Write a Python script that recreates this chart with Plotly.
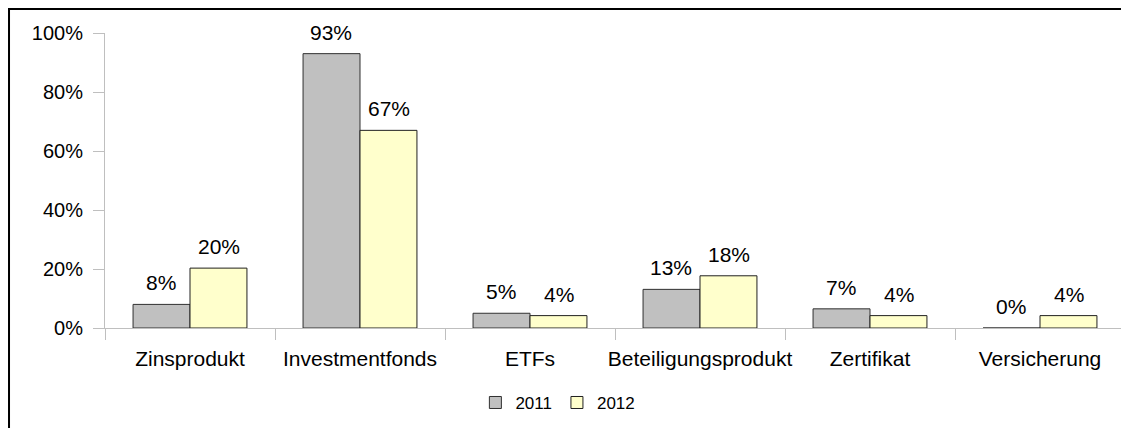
import plotly.graph_objects as go

CATEGORIES = ['Zinsprodukt', 'Investmentfonds', 'ETFs', 'Beteiligungsprodukt', 'Zertifikat', 'Versicherung']

VALUES_2011 = [8.0, 93.0, 5.0, 13.1, 6.5, 0.0]
VALUES_2012 = [20.3, 67.0, 4.2, 17.7, 4.2, 4.2]

LABELS_2011 = ['8%', '93%', '5%', '13%', '7%', '0%']
LABELS_2012 = ['20%', '67%', '4%', '18%', '4%', '4%']

Y_TICKS = [0, 20, 40, 60, 80, 100]
Y_TICK_TEXT = ['0%', '20%', '40%', '60%', '80%', '100%']

FONT = 'Liberation Sans, Arial, sans-serif'

fig = go.Figure()
fig.add_trace(go.Bar(x=CATEGORIES, y=VALUES_2011, name='2011',
                     marker=dict(color='#C0C0C0', line=dict(color='#303030', width=1))))
fig.add_trace(go.Bar(x=CATEGORIES, y=VALUES_2012, name='2012',
                     marker=dict(color='#FFFFCC', line=dict(color='#202020', width=1))))

# value labels above the bars (offset to the left / right half of each group)
for vals, labels, shift in [(VALUES_2011, LABELS_2011, -0.17), (VALUES_2012, LABELS_2012, 0.17)]:
    for i, (v, t) in enumerate(zip(vals, labels)):
        fig.add_annotation(x=i + shift, y=v, text=t, showarrow=False,
                           xref='x', yref='y', yanchor='bottom', yshift=8,
                           font=dict(size=21, color='black', family=FONT))

# outer frame
fig.add_shape(type='rect', xref='paper', yref='paper',
              x0=-0.0941, x1=1.2, y0=-0.6, y1=1.081,
              line=dict(color='black', width=2), fillcolor='rgba(0,0,0,0)')

fig.update_layout(
    width=1129, height=428,
    margin=dict(l=97, r=12, t=25, b=108, autoexpand=False),
    paper_bgcolor='white', plot_bgcolor='white',
    barmode='group', bargap=0.33, bargroupgap=0,
    font=dict(family=FONT, size=19, color='black'),
    showlegend=True,
    legend=dict(orientation='h', x=0.444, xanchor='center', y=-0.193, yanchor='top',
                font=dict(size=17), itemwidth=30),
)
fig.update_xaxes(type='category', showline=True, linecolor='#BFBFBF', linewidth=1,
                 ticks='outside', tickson='boundaries', ticklen=11, tickcolor='#BFBFBF',
                 showgrid=False, tickangle=0, automargin=False, ticklabelstandoff=12,
                 tickfont=dict(size=21))
fig.update_yaxes(range=[0, 100], tickvals=Y_TICKS, ticktext=Y_TICK_TEXT,
                 showline=True, linecolor='#BFBFBF', linewidth=1,
                 ticks='outside', ticklen=11, tickcolor='#BFBFBF',
                 showgrid=False, zeroline=False, ticklabelstandoff=6, automargin=False,
                 tickfont=dict(size=20))

fig.write_html("out.html")
